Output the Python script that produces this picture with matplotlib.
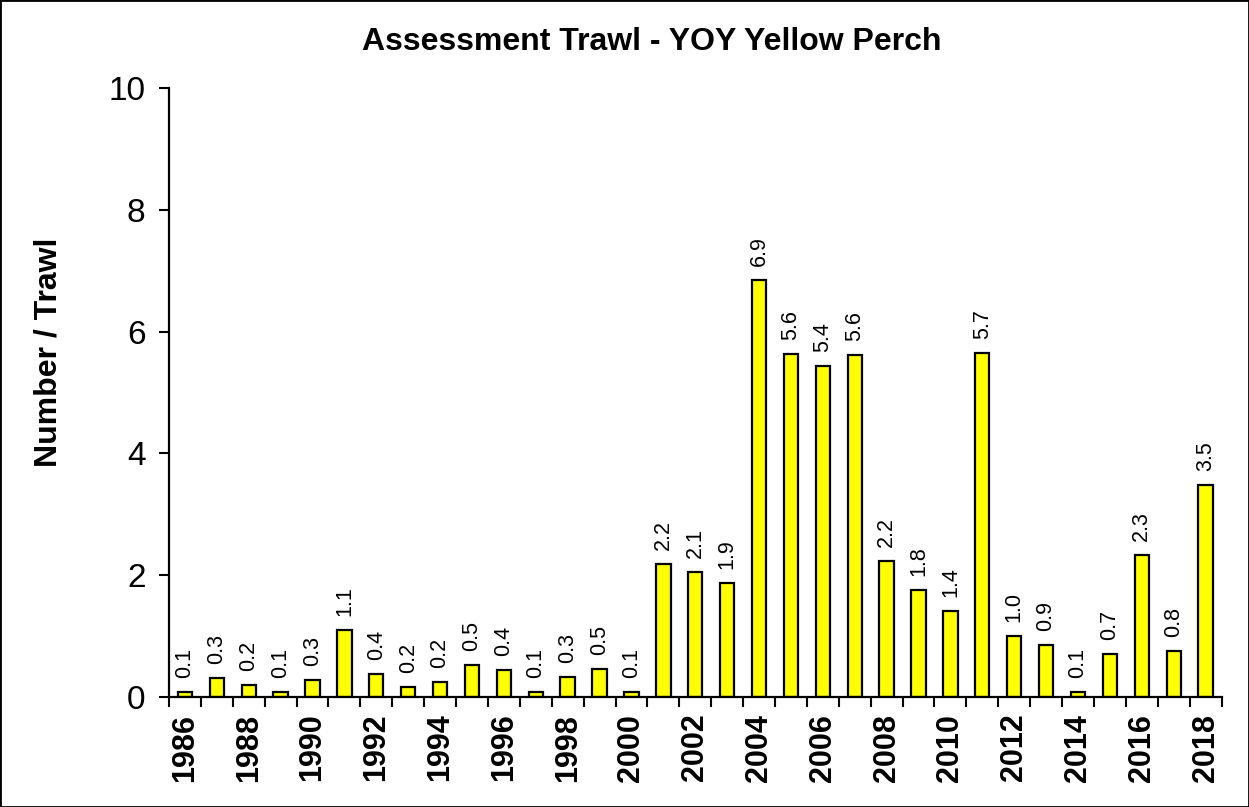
import matplotlib
matplotlib.use("Agg")
import matplotlib.pyplot as plt
from matplotlib.patches import Rectangle
import numpy as np

# Data
years = list(range(1986, 2019))
catch_per_trawl = [0.09, 0.31, 0.20, 0.08, 0.28, 1.10, 0.38, 0.16, 0.24, 0.52,
                   0.44, 0.09, 0.33, 0.46, 0.08, 2.18, 2.05, 1.88, 6.85, 5.63,
                   5.43, 5.62, 2.23, 1.76, 1.41, 5.65, 1.00, 0.86, 0.09, 0.70,
                   2.33, 0.76, 3.48]
bar_labels = ["0.1", "0.3", "0.2", "0.1", "0.3", "1.1", "0.4", "0.2", "0.2", "0.5",
              "0.4", "0.1", "0.3", "0.5", "0.1", "2.2", "2.1", "1.9", "6.9", "5.6",
              "5.4", "5.6", "2.2", "1.8", "1.4", "5.7", "1.0", "0.9", "0.1", "0.7",
              "2.3", "0.8", "3.5"]
y_ticks = [0, 2, 4, 6, 8, 10]

plt.rcParams['font.family'] = ['Liberation Sans', 'DejaVu Sans']

fig = plt.figure(figsize=(12.49, 8.07), dpi=100)
ax = fig.add_axes([0.1353, 0.1363, 0.978 - 0.1353, 0.891 - 0.1363])

x = np.array(years)
bars = ax.bar(x, catch_per_trawl, width=0.45, color='#FFFF00',
              edgecolor='black', linewidth=1.6)

for xi, h, lab in zip(x, catch_per_trawl, bar_labels):
    ax.annotate(lab, (xi, h), xytext=(0, 10), textcoords='offset points',
                rotation=90, ha='center', va='bottom', fontsize=15.5)

ax.set_xlim(years[0] - 0.5, years[-1] + 0.5)
ax.set_ylim(0, 10)
ax.set_yticks(y_ticks)
ax.set_yticklabels([str(t) for t in y_ticks], fontsize=24)

# labels on even years, tick marks between the bars
label_years = [y for y in years if y % 2 == 0]
ax.set_xticks(label_years)
ax.set_xticklabels([str(y) for y in label_years], rotation=90,
                   fontsize=22, fontweight='bold')
ax.set_xticks(np.arange(years[0] - 0.5, years[-1] + 1.0, 1.0), minor=True)
ax.tick_params(axis='x', which='major', length=0, pad=12)
ax.tick_params(axis='x', which='minor', length=7, width=1.5, direction='out')
ax.tick_params(axis='y', length=7, width=1.5, pad=10)

for side in ['top', 'right']:
    ax.spines[side].set_visible(False)
for side in ['left', 'bottom']:
    ax.spines[side].set_linewidth(1.6)

ax.set_ylabel("Number / Trawl", fontsize=23, fontweight='bold')
ax.yaxis.set_label_coords(-0.10, 0.566)
fig.text(652 / 1249, 1 - 42 / 807, "Assessment Trawl - YOY Yellow Perch",
         ha='center', va='center', fontsize=23, fontweight='bold')

fig.patches.append(Rectangle((0, 0), 1, 1, transform=fig.transFigure,
                             fill=False, edgecolor='black', linewidth=2))

fig.savefig("out.png", dpi=100)
